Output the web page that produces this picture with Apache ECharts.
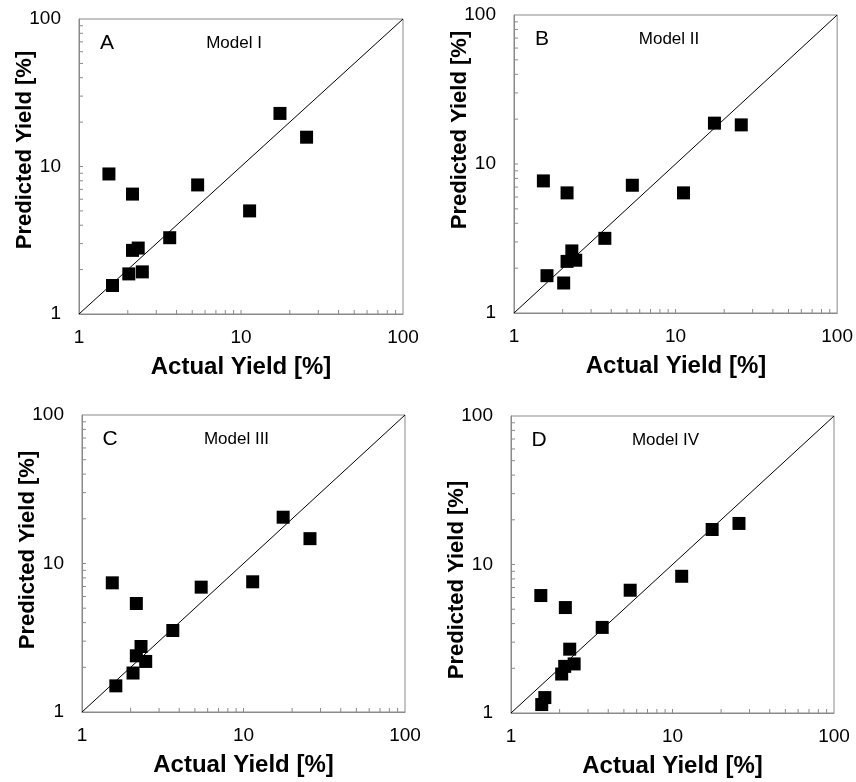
<!DOCTYPE html>
<html>
<head>
<meta charset="utf-8">
<script src="https://cdn.jsdelivr.net/npm/echarts@6/dist/echarts.min.js"></script>
<style>
html,body{margin:0;padding:0;background:#fff;}
#chart{width:856px;height:782px;}
</style>
</head>
<body>
<div id="chart"></div>
<script>
// ---- data ----
var panelLetters = ['A', 'B', 'C', 'D'];
var modelNames = ['Model I', 'Model II', 'Model III', 'Model IV'];
var majorTicks = [1, 10, 100];
var minorTickValues = [2, 3, 4, 5, 6, 7, 8, 9, 10, 20, 30, 40, 50, 60, 70, 80, 90];
var diagonal = [1, 100];
var xTitle = 'Actual Yield [%]';
var yTitle = 'Predicted Yield [%]';

var actualA = [1.53, 1.61, 2.03, 2.14, 2.14, 2.32, 2.46, 3.63, 5.4, 11.3, 17.4, 25.4];
var predA   = [8.9, 1.56, 1.87, 6.5, 2.7, 2.8, 1.93, 3.29, 7.5, 5.0, 22.9, 15.8];

var actualB = [1.52, 1.60, 2.03, 2.13, 2.13, 2.28, 2.41, 3.65, 5.4, 11.2, 17.4, 25.5];
var predB   = [7.7, 1.78, 1.59, 6.4, 2.22, 2.61, 2.26, 3.17, 7.2, 6.4, 18.8, 18.3];

var actualC = [1.54, 1.62, 2.07, 2.17, 2.17, 2.32, 2.48, 3.65, 5.47, 11.4, 17.6, 25.8];
var predC   = [7.41, 1.50, 1.83, 5.38, 2.39, 2.76, 2.19, 3.54, 6.93, 7.53, 20.5, 14.7];

var actualD = [1.53, 1.55, 1.62, 2.06, 2.15, 2.17, 2.31, 2.46, 3.67, 5.47, 11.4, 17.6, 25.8];
var predD   = [6.18, 1.14, 1.27, 1.83, 2.06, 5.13, 2.69, 2.14, 3.77, 6.71, 8.33, 17.2, 18.9];

// ---- layout ----
var grids = [
  {left: 79, top: 19, width: 324, height: 295},
  {left: 514, top: 15, width: 324, height: 298},
  {left: 82, top: 415, width: 323, height: 297},
  {left: 511, top: 416, width: 323, height: 297}
];
var yTitleCenters = [150, 130, 550, 580];

var actuals = [actualA, actualB, actualC, actualD];
var preds = [predA, predB, predC, predD];

var FONT = 'Liberation Sans, Arial, sans-serif';
var AXIS_GREY = '#8a8a8a';

function pairs(xs, ys) {
  var out = [];
  for (var i = 0; i < xs.length; i++) out.push([xs[i], ys[i]]);
  return out;
}

function axisCommon(i) {
  return {
    type: 'log', logBase: 10, min: 1, max: 100, gridIndex: i,
    axisLine: {show: true, lineStyle: {color: AXIS_GREY, width: 1}},
    axisTick: {show: false},
    axisLabel: {show: true, color: '#000', fontSize: 19, fontFamily: FONT},
    splitLine: {show: false}
  };
}

var option = {
  animation: false,
  backgroundColor: '#fff',
  grid: [], xAxis: [], yAxis: [], series: [], graphic: []
};

for (var i = 0; i < 4; i++) {
  var g = grids[i];
  option.grid.push({left: g.left, top: g.top, width: g.width, height: g.height,
    show: true, borderColor: AXIS_GREY, borderWidth: 1, containLabel: false});
  var xa = axisCommon(i);
  xa.axisLabel.margin = 14;
  option.xAxis.push(xa);
  var ya = axisCommon(i);
  ya.axisLabel.margin = 18;
  option.yAxis.push(ya);

  // inward minor ticks along the bottom axis (placed via the axis scale)
  option.series.push({
    type: 'scatter', xAxisIndex: i, yAxisIndex: i, silent: true,
    data: minorTickValues.map(function (v) { return [v, 1]; }),
    symbol: 'rect', symbolSize: [1, 4], symbolOffset: [0, -2],
    itemStyle: {color: AXIS_GREY, opacity: 1}, z: 1
  });
  // inward minor ticks along the left axis
  option.series.push({
    type: 'scatter', xAxisIndex: i, yAxisIndex: i, silent: true,
    data: minorTickValues.map(function (v) { return [1, v]; }),
    symbol: 'rect', symbolSize: [4, 1], symbolOffset: [2, 0],
    itemStyle: {color: AXIS_GREY, opacity: 1}, z: 1
  });

  option.series.push({
    type: 'line', xAxisIndex: i, yAxisIndex: i,
    data: pairs(diagonal, diagonal), showSymbol: false, symbol: 'none',
    lineStyle: {color: '#000', width: 1}, silent: true, z: 2
  });
  option.series.push({
    type: 'scatter', xAxisIndex: i, yAxisIndex: i,
    data: pairs(actuals[i], preds[i]), symbol: 'rect', symbolSize: 13,
    itemStyle: {color: '#000', opacity: 1}, z: 3
  });

  // x axis title
  option.graphic.push({
    type: 'text', x: g.left + g.width / 2, y: g.top + g.height + 53,
    style: {text: xTitle, font: 'bold 24px ' + FONT, fill: '#000', align: 'center', verticalAlign: 'middle'}
  });
  // y axis title (rotated)
  option.graphic.push({
    type: 'text', x: g.left - 54, y: yTitleCenters[i], rotation: Math.PI / 2,
    style: {text: yTitle, font: 'bold 22px ' + FONT, fill: '#000', align: 'center', verticalAlign: 'middle'}
  });
  // panel letter
  option.graphic.push({
    type: 'text', x: g.left + 28, y: g.top + 24,
    style: {text: panelLetters[i], font: '21px ' + FONT, fill: '#000', align: 'center', verticalAlign: 'middle'}
  });
  // model name
  option.graphic.push({
    type: 'text', x: g.left + g.width / 2 - 7, y: g.top + 24,
    style: {text: modelNames[i], font: '17px ' + FONT, fill: '#000', align: 'center', verticalAlign: 'middle'}
  });
}

var chart = echarts.init(document.getElementById('chart'), null, {renderer: 'canvas'});
chart.setOption(option);
</script>
</body>
</html>
